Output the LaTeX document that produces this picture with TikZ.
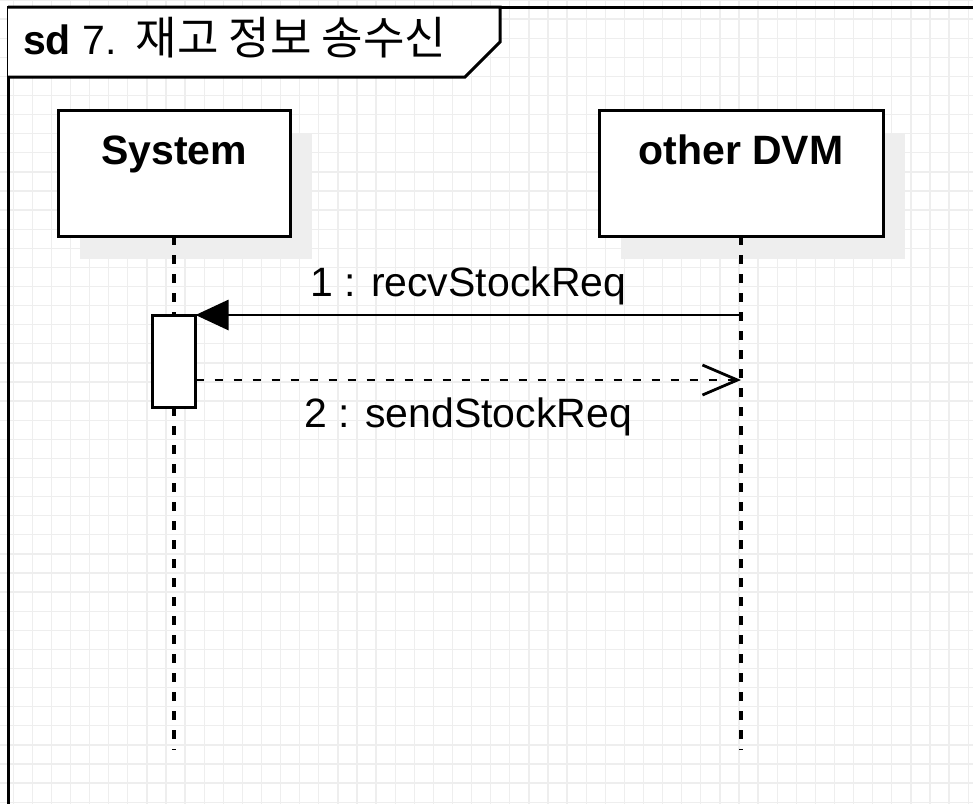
\documentclass[tikz,border=0pt]{standalone}
\usepackage{fontspec}
\setmainfont{Liberation Sans}
\newfontfamily\krfont[Scale=1.1]{Noto Sans CJK KR}
\usetikzlibrary{positioning,arrows.meta,shadows}
\definecolor{gridgray}{RGB}{238,238,238}
\definecolor{shadowgray}{RGB}{238,238,238}

\begin{document}
\begin{tikzpicture}[x=1pt,y=-1pt]
\tikzset{basic/.style={draw,fill=white,line width=3pt,inner sep=0pt,outer sep=0pt}}
\tikzset{lifebox/.style={basic,text height=54pt,text depth=72pt,
  font=\fontsize{41}{49}\selectfont\bfseries,
  drop shadow={shadow xshift=22pt,shadow yshift=-23pt,fill=shadowgray,opacity=1}}}
\tikzset{activation/.style={basic,minimum width=43pt,minimum height=92pt}}
\tikzset{lifeline/.style={line width=3.2pt,dash pattern=on 9pt off 10pt}}
\tikzset{msg/.style={line width=2.8pt,-{Triangle[length=33pt,width=30pt]}}}
\tikzset{reply/.style={line width=2.8pt,dash pattern=on 8pt off 11pt,-{Straight Barb[length=35pt,width=30pt]}}}
\tikzset{msglabel/.style={inner sep=0pt,font=\fontsize{41}{49}\selectfont}}
	\clip (0,0) rectangle (973,803);
	\fill[white] (0,0) rectangle (973,803);
	\draw[gridgray,line width=1.3pt,xshift=13.2pt] (-20,0) grid[step=19.1pt] (980,810);
	% frame and title tab
	\draw[line width=3pt] (8,7) rectangle (1000,830);
	\draw[line width=3pt,fill=white] (8,7) -- (500,7) -- (500,42) -- (465,77) -- (8,77);
	\node[anchor=base west,msglabel] (title) at (23,54) {\textbf{sd} 7.\hspace{4pt} {\krfont 재고 정보 송수신}};
	% lifelines
	\node[lifebox,minimum width=232pt] (sys) at (174,173) {System};
	\node[lifebox,minimum width=284pt,right=309pt of sys] (dvm) {other DVM};
	\coordinate (sysend) at (sys.south |- 0,750);
	\coordinate (dvmend) at (dvm.south |- 0,750);
		\draw[lifeline] (sys.south) -- (sysend);
		\draw[lifeline] (dvm.south) -- (dvmend);
	\node[activation] (act) at (sys.south |- 0,361) {};
	% messages
	\coordinate (recv) at (dvm.south |- act.north);
		\draw[msg] (recv) -- (act.north east) node[midway,above=9pt,msglabel] (m1) {1 : recvStockReq};
	\coordinate (send) at (act.east |- 0,380);
	\coordinate (sendend) at (dvm.south |- send);
		\draw[reply] (send) -- (sendend) node[midway,below=16pt,msglabel] (m2) {2 : sendStockReq};
\end{tikzpicture}
\end{document}
